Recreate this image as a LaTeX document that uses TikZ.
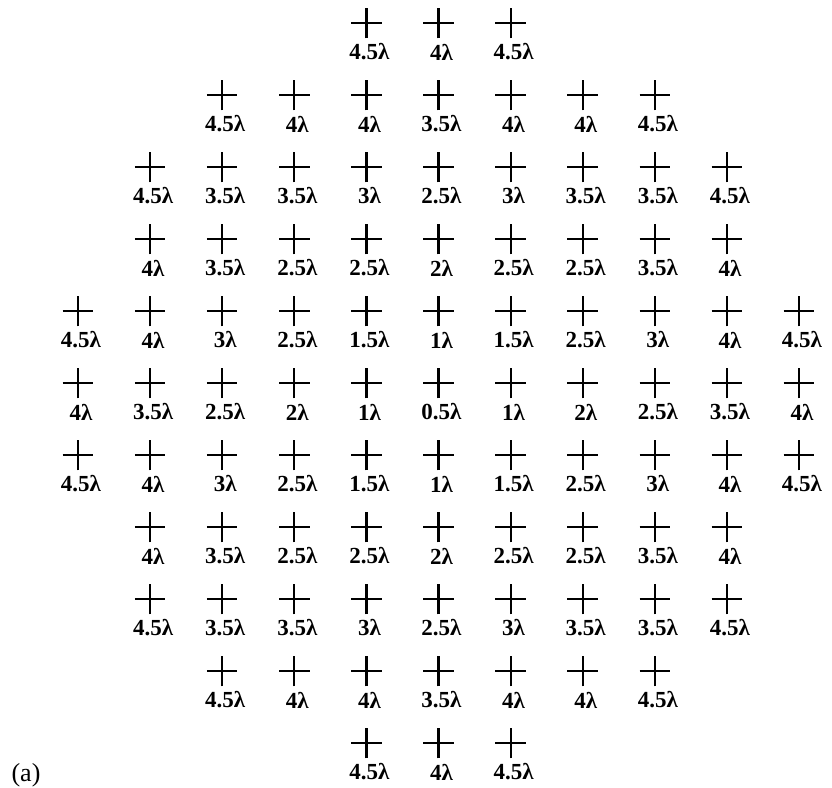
\documentclass[tikz,border=0pt]{standalone}
\usepackage{fontspec}
\setmainfont{Liberation Serif}
\usetikzlibrary{shapes.misc,positioning}
\tikzset{
  crossmark/.style={cross out, draw, rotate=45, line width=1.1pt,
    minimum size=10.8pt, inner sep=0pt, outer sep=0pt},
  distlabel/.style={font=\fontsize{11.5}{13}\selectfont\bfseries, inner sep=0pt},
  panellabel/.style={font=\fontsize{13}{15}\selectfont, inner sep=0pt}
}

\begin{document}
\begin{tikzpicture}[x=0.5pt,y=-0.5pt]
  \useasboundingbox (0,0) rectangle (832,788);
  % rows of markers: row / first column / path-length labels
  \foreach \row/\first/\vals in {
      0/4/{4.5,4,4.5},
      1/2/{4.5,4,4,3.5,4,4,4.5},
      2/1/{4.5,3.5,3.5,3,2.5,3,3.5,3.5,4.5},
      3/1/{4,3.5,2.5,2.5,2,2.5,2.5,3.5,4},
      4/0/{4.5,4,3,2.5,1.5,1,1.5,2.5,3,4,4.5},
      5/0/{4,3.5,2.5,2,1,0.5,1,2,2.5,3.5,4},
      6/0/{4.5,4,3,2.5,1.5,1,1.5,2.5,3,4,4.5},
      7/1/{4,3.5,2.5,2.5,2,2.5,2.5,3.5,4},
      8/1/{4.5,3.5,3.5,3,2.5,3,3.5,3.5,4.5},
      9/2/{4.5,4,4,3.5,4,4,4.5},
      10/4/{4.5,4,4.5}} {
    \foreach \v [count=\k from \first] in \vals {
      \node[crossmark] (m-\row-\k) at ({78+72.1*\k},{23+72*\row}) {};
      \node[distlabel] (l-\row-\k) at ([xshift=1.5pt,yshift=-14.5pt]m-\row-\k.center) {\v λ};
    }
  }
  \node[panellabel] (tag) at (26,775) {(a)};
\end{tikzpicture}
\end{document}
